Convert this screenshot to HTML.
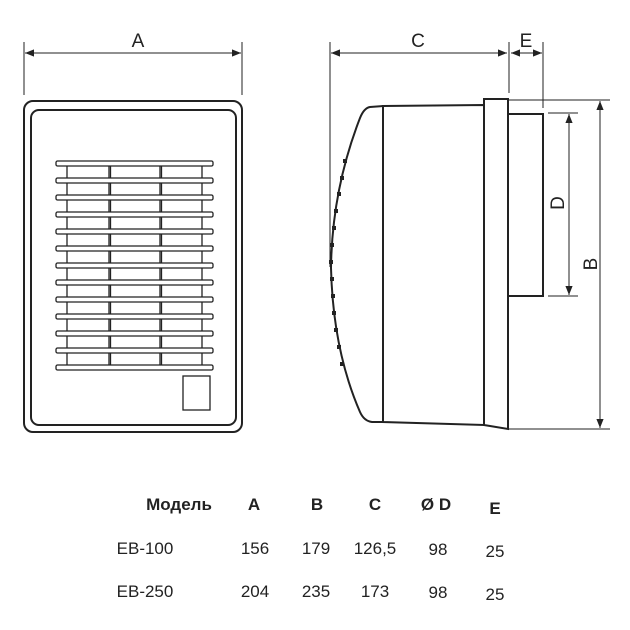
<!DOCTYPE html>
<html><head><meta charset="utf-8"><style>
html,body{margin:0;padding:0;background:#fff;}
svg{display:block;}
text{font-family:"Liberation Sans","Noto Sans CJK SC",sans-serif;fill:#222;}
</style></head><body>
<svg width="630" height="630" viewBox="0 0 630 630" xmlns="http://www.w3.org/2000/svg">
<defs>
<marker id="ar" viewBox="0 0 10 10" refX="10" refY="5" markerWidth="10" markerHeight="9" orient="auto-start-reverse" markerUnits="userSpaceOnUse">
<path d="M0,1 L10,5 L0,9 z" fill="#222"/></marker>
</defs>
<g stroke="#222" fill="none">
<line x1="24" y1="42" x2="24" y2="95" stroke-width="1"/>
<line x1="242" y1="42" x2="242" y2="95" stroke-width="1"/>
<line x1="25" y1="53" x2="241" y2="53" stroke-width="1" marker-start="url(#ar)" marker-end="url(#ar)"/>
<rect x="24" y="101" width="218" height="331" rx="9" stroke-width="2"/>
<rect x="31" y="110" width="205" height="315" rx="8" stroke-width="2"/>
<g stroke-width="1.3">
<line x1="67" y1="165" x2="67" y2="367"/>
<line x1="109" y1="165" x2="109" y2="367"/>
<line x1="110.5" y1="165" x2="110.5" y2="367"/>
<line x1="160" y1="165" x2="160" y2="367"/>
<line x1="161.5" y1="165" x2="161.5" y2="367"/>
<line x1="202" y1="165" x2="202" y2="367"/>
</g>
<g stroke-width="1.3" fill="#fff">
<rect x="56" y="161" width="157" height="5" rx="1.5"/>
<rect x="56" y="178" width="157" height="5" rx="1.5"/>
<rect x="56" y="195" width="157" height="5" rx="1.5"/>
<rect x="56" y="212" width="157" height="5" rx="1.5"/>
<rect x="56" y="229" width="157" height="5" rx="1.5"/>
<rect x="56" y="246" width="157" height="5" rx="1.5"/>
<rect x="56" y="263" width="157" height="5" rx="1.5"/>
<rect x="56" y="280" width="157" height="5" rx="1.5"/>
<rect x="56" y="297" width="157" height="5" rx="1.5"/>
<rect x="56" y="314" width="157" height="5" rx="1.5"/>
<rect x="56" y="331" width="157" height="5" rx="1.5"/>
<rect x="56" y="348" width="157" height="5" rx="1.5"/>
<rect x="56" y="365" width="157" height="5" rx="1.5"/>
</g>
<rect x="183" y="376" width="27" height="34" stroke-width="1.3"/>
<line x1="330" y1="42" x2="330" y2="267" stroke-width="1"/>
<line x1="509" y1="42" x2="509" y2="93" stroke-width="1"/>
<line x1="543" y1="42" x2="543" y2="108" stroke-width="1"/>
<line x1="331" y1="53" x2="507" y2="53" stroke-width="1" marker-start="url(#ar)" marker-end="url(#ar)"/>
<line x1="511" y1="53" x2="542" y2="53" stroke-width="1" marker-start="url(#ar)" marker-end="url(#ar)"/>
<line x1="508" y1="100" x2="610" y2="100" stroke-width="1"/>
<line x1="508" y1="429" x2="610" y2="429" stroke-width="1"/>
<line x1="600" y1="101" x2="600" y2="428" stroke-width="1" marker-start="url(#ar)" marker-end="url(#ar)"/>
<line x1="548" y1="113" x2="578" y2="113" stroke-width="1"/>
<line x1="548" y1="296" x2="578" y2="296" stroke-width="1"/>
<line x1="569" y1="114" x2="569" y2="295" stroke-width="1" marker-start="url(#ar)" marker-end="url(#ar)"/>
<path d="M383,106 L370,107 Q364,108 360,118 Q332,190 331,268 Q333,350 360,412 Q364,421 372,422 L383,422" stroke-width="2"/>
<path d="M383,106 L484,105 L484,425 L383,422 Z" stroke-width="2"/>
<path d="M484,99 L508,99 L508,429 L484,425 Z" stroke-width="2"/>
<rect x="508" y="114" width="35" height="182" stroke-width="2"/>
</g>
<g fill="#222">
<rect x="343" y="159" width="4" height="4"/>
<rect x="340" y="176" width="4" height="4"/>
<rect x="337" y="192" width="4" height="4"/>
<rect x="334" y="209" width="4" height="4"/>
<rect x="332" y="226" width="4" height="4"/>
<rect x="330" y="243" width="4" height="4"/>
<rect x="329" y="260" width="4" height="4"/>
<rect x="330" y="277" width="4" height="4"/>
<rect x="331" y="294" width="4" height="4"/>
<rect x="332" y="311" width="4" height="4"/>
<rect x="334" y="328" width="4" height="4"/>
<rect x="337" y="345" width="4" height="4"/>
<rect x="340" y="362" width="4" height="4"/>
</g>
<text x="138" y="47" font-size="19" text-anchor="middle">A</text>
<text x="418" y="47" font-size="19" text-anchor="middle">C</text>
<text x="526" y="47" font-size="19" text-anchor="middle">E</text>
<text x="0" y="0" font-size="19" text-anchor="middle" transform="translate(564,203) rotate(-90)">D</text>
<text x="0" y="0" font-size="19" text-anchor="middle" transform="translate(597,264) rotate(-90)">B</text>
<g font-size="17" font-weight="bold" text-anchor="middle">
<text x="179" y="510">Модель</text>
<text x="254" y="510">A</text>
<text x="317" y="510">B</text>
<text x="375" y="510">C</text>
<text x="436" y="510">Ø D</text>
<text x="495" y="514">E</text>
</g>
<g font-size="17" text-anchor="middle">
<text x="145" y="554">EB-100</text>
<text x="255" y="554">156</text>
<text x="316" y="554">179</text>
<text x="375" y="554">126,5</text>
<text x="438" y="555">98</text>
<text x="495" y="557">25</text>
<text x="145" y="597">EB-250</text>
<text x="255" y="597">204</text>
<text x="316" y="597">235</text>
<text x="375" y="597">173</text>
<text x="438" y="598">98</text>
<text x="495" y="600">25</text>
</g>
</svg>
</body></html>
